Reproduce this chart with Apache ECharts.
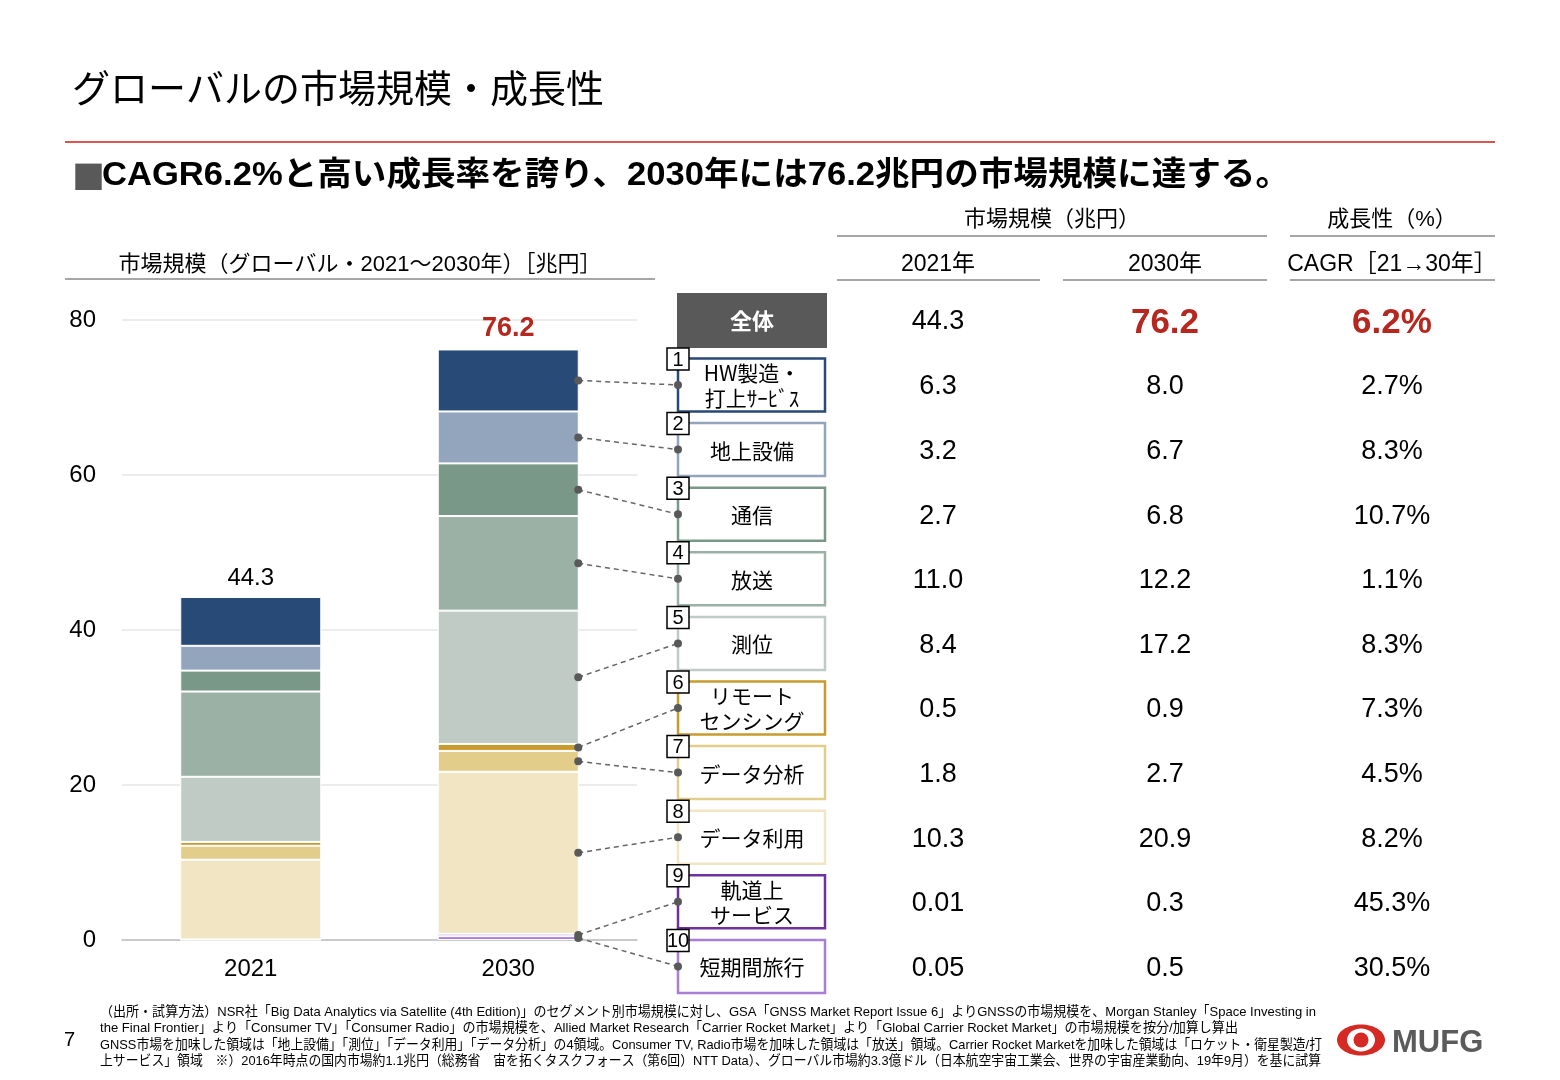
<!DOCTYPE html>
<html>
<head>
<meta charset="utf-8">
<script src="https://cdn.jsdelivr.net/npm/echarts@6/dist/echarts.min.js"></script>
<style>
html,body{margin:0;padding:0;background:#fff;}
#main{width:1560px;height:1080px;}
</style>
</head>
<body>
<div id="main"></div>
<script>
// データ（上から順に 1〜10）
var years = ['2021', '2030'];
var segNames = ['HW製造・\n打上ｻｰﾋﾞｽ', '地上設備', '通信', '放送', '測位', 'リモート\nセンシング', 'データ分析', 'データ利用', '軌道上\nサービス', '短期間旅行'];
var value2021 = [6.3, 3.2, 2.7, 11.0, 8.4, 0.5, 1.8, 10.3, 0.01, 0.05];
var value2030 = [8.0, 6.7, 6.8, 12.2, 17.2, 0.9, 2.7, 20.9, 0.3, 0.5];
var cagrList = ['2.7%', '8.3%', '10.7%', '1.1%', '8.3%', '7.3%', '4.5%', '8.2%', '45.3%', '30.5%'];
var totals = [44.3, 76.2];
var totalCagr = '6.2%';
var yTicks = [0, 20, 40, 60, 80];

var segColors = ['#284a77', '#93a5bd', '#7a9888', '#9cb1a6', '#bfcbc4', '#c99a2e', '#e2cd8a', '#f2e5c3', '#7030a0', '#a97ed6'];
var RED = '#b5271f';
var FONT = '"Liberation Sans","Noto Sans CJK JP",sans-serif';
var JFONT = '"Noto Sans CJK JP",sans-serif';

var ctx = document.createElement('canvas').getContext('2d');
function measure(s, font) {
    ctx.font = font;
    return ctx.measureText(s).width;
}
function fmt(v) {
    return v < 0.1 ? String(v) : v.toFixed(1);
}
function txt(x, y, s, size, opt) {
    opt = opt || {};
    return {
        type: 'text', x: x, y: y, scaleX: opt.sx || 1, silent: true, z: 10,
        style: {
            text: s,
            font: (opt.bold ? 'bold ' : '') + size + 'px ' + (opt.family || FONT),
            fill: opt.color || '#000',
            textAlign: opt.align || 'left',
            textVerticalAlign: 'middle',
            lineHeight: opt.lh || size * 1.2
        }
    };
}
function hline(x1, x2, y, color, w) {
    return {type: 'line', silent: true, shape: {x1: x1, y1: y, x2: x2, y2: y}, style: {stroke: color, lineWidth: w}};
}

// 系列は下から積む
var series = [];
for (var i = segNames.length - 1; i >= 0; i--) {
    var data = [value2021[i], value2030[i]];
    if (i === 0) {
        data = data.map(function (v, k) {
            return {
                value: v,
                label: {
                    show: true, position: 'top', distance: 7,
                    formatter: totals[k].toFixed(1),
                    color: k ? RED : '#000',
                    fontSize: k ? 27 : 24,
                    fontWeight: k ? 'bold' : 'normal',
                    fontFamily: FONT
                }
            };
        });
    }
    series.push({
        name: segNames[i],
        type: 'bar',
        stack: 'total',
        barWidth: 141,
        data: data,
        itemStyle: {color: segColors[i], borderColor: '#fff', borderWidth: 1},
        emphasis: {disabled: true}
    });
}

var chart = echarts.init(document.getElementById('main'));
chart.setOption({
    animation: false,
    grid: {left: 122, right: 923, top: 320, bottom: 140},
    xAxis: {
        type: 'category', data: years,
        axisLine: {lineStyle: {color: '#bfbfbf', width: 1.5}},
        axisTick: {show: false},
        axisLabel: {color: '#000', fontSize: 24, fontFamily: FONT, margin: 17}
    },
    yAxis: {
        type: 'value', min: yTicks[0], max: yTicks[yTicks.length - 1], interval: yTicks[1] - yTicks[0],
        axisLine: {show: false}, axisTick: {show: false},
        splitLine: {lineStyle: {color: '#e6e6e6', width: 1.5}},
        axisLabel: {color: '#000', fontSize: 24, fontFamily: FONT, margin: 26}
    },
    series: series
});

// 文字・表・凡例ボックス
var g = [];
g.push(txt(72, 88, 'グローバルの市場規模・成長性', 38, {family: JFONT}));
g.push(hline(65, 1495, 142, '#d9574f', 2));

var subFont = 'bold 33px ' + FONT;
var subText = 'CAGR6.2%と高い成長率を誇り、2030年には76.2兆円の市場規模に達する。';
g.push(txt(72, 176, '■', 33, {bold: true, color: '#595959', family: JFONT}));
g.push(txt(102, 176, subText, 33, {bold: true, sx: 1188 / measure(subText, subFont)}));

g.push(txt(360, 265, '市場規模（グローバル・2021～2030年）［兆円］', 22, {align: 'center'}));
g.push(hline(65, 655, 279, '#a6a6a6', 2));

g.push(txt(1052, 220, '市場規模（兆円）', 22, {align: 'center'}));
g.push(hline(837, 1267, 236, '#a6a6a6', 2));
g.push(txt(1392, 220, '成長性（%）', 22, {align: 'center'}));
g.push(hline(1290, 1495, 236, '#a6a6a6', 2));

var colX = [938, 1165, 1392];
g.push(txt(colX[0], 265, years[0] + '年', 23, {align: 'center'}));
g.push(hline(837, 1040, 280, '#a6a6a6', 2));
g.push(txt(colX[1], 265, years[1] + '年', 23, {align: 'center'}));
g.push(hline(1063, 1267, 280, '#a6a6a6', 2));
g.push(txt(colX[2], 265, 'CAGR［21→30年］', 23, {align: 'center'}));
g.push(hline(1290, 1495, 280, '#a6a6a6', 2));

// 全体
g.push({type: 'rect', silent: true, shape: {x: 677, y: 293, width: 150, height: 55}, style: {fill: '#595959'}});
g.push(txt(752, 321, '全体', 22, {align: 'center', bold: true, color: '#fff', family: JFONT}));
g.push(txt(colX[0], 322, totals[0].toFixed(1), 27, {align: 'center'}));
g.push(txt(colX[1], 323, totals[1].toFixed(1), 35, {align: 'center', bold: true, color: RED}));
g.push(txt(colX[2], 323, totalCagr, 35, {align: 'center', bold: true, color: RED}));

var rowY = [];
for (var r = 0; r < segNames.length; r++) {
    var cy = 385 + r * 64.6;
    rowY.push(cy);
    g.push({type: 'rect', silent: true, shape: {x: 678, y: cy - 26.5, width: 147, height: 53},
        style: {fill: '#fff', stroke: segColors[r], lineWidth: 2.5}});
    g.push(txt(752, cy + 1, segNames[r], 21, {align: 'center', lh: 25, family: JFONT}));
    g.push({type: 'rect', silent: true, z: 11, shape: {x: 667, y: cy - 37, width: 22, height: 22},
        style: {fill: '#fff', stroke: '#000', lineWidth: 1.5}});
    var tg = txt(678, cy - 25, String(r + 1), 20, {align: 'center'});
    tg.z = 12;
    g.push(tg);
    g.push(txt(colX[0], cy + 2, fmt(value2021[r]), 27, {align: 'center'}));
    g.push(txt(colX[1], cy + 2, fmt(value2030[r]), 27, {align: 'center'}));
    g.push(txt(colX[2], cy + 2, cagrList[r], 27, {align: 'center'}));
}

// 2030年の棒から凡例へ点線
for (var s = 0; s < segNames.length; s++) {
    var base = 0;
    for (var j = s + 1; j < segNames.length; j++) base += value2030[j];
    var p = chart.convertToPixel({seriesIndex: 0}, [years[1], base + value2030[s] / 2]);
    var px = p[0] + 70;
    g.push({type: 'line', silent: true, z: 20, shape: {x1: px, y1: p[1], x2: 678, y2: rowY[s]},
        style: {stroke: '#666', lineWidth: 1.5, lineDash: [5, 4]}});
    g.push({type: 'circle', silent: true, z: 21, shape: {cx: px, cy: p[1], r: 4}, style: {fill: '#595959'}});
    g.push({type: 'circle', silent: true, z: 21, shape: {cx: 678, cy: rowY[s], r: 4}, style: {fill: '#595959'}});
}

// 注記（行ごとの右端に合わせて横幅を詰める）
var notes = [
    '（出所・試算方法）NSR社「Big Data Analytics via Satellite (4th Edition)」のセグメント別市場規模に対し、GSA「GNSS Market Report Issue 6」よりGNSSの市場規模を、Morgan Stanley「Space Investing in',
    'the Final Frontier」より「Consumer TV」「Consumer Radio」の市場規模を、Allied Market Research「Carrier Rocket Market」より「Global Carrier Rocket Market」の市場規模を按分/加算し算出',
    'GNSS市場を加味した領域は「地上設備」「測位」「データ利用」「データ分析」の4領域。Consumer TV, Radio市場を加味した領域は「放送」領域。Carrier Rocket Marketを加味した領域は「ロケット・衛星製造/打',
    '上サービス」領域　※）2016年時点の国内市場約1.1兆円（総務省　宙を拓くタスクフォース（第6回）NTT Data）、グローバル市場約3.3億ドル（日本航空宇宙工業会、世界の宇宙産業動向、19年9月）を基に試算'
];
var noteWidths = [1216, 1138, 1222, 1221];
var noteFont = '13.5px ' + FONT;
for (var n = 0; n < notes.length; n++) {
    g.push(txt(100, 1012 + n * 16.5, notes[n], 13.5, {sx: noteWidths[n] / measure(notes[n], noteFont)}));
}
g.push(txt(64, 1040, '7', 20));

// ロゴ
g.push({type: 'ellipse', silent: true, shape: {cx: 1361, cy: 1040, rx: 24, ry: 15.5}, style: {fill: '#d42a23'}});
g.push({type: 'ellipse', silent: true, shape: {cx: 1361, cy: 1040, rx: 14, ry: 11.5}, style: {fill: '#fff'}});
g.push({type: 'circle', silent: true, shape: {cx: 1361, cy: 1040, r: 7.5}, style: {fill: '#d42a23'}});
g.push(txt(1392, 1043, 'MUFG', 31, {bold: true, color: '#5b5b5b'}));

chart.setOption({graphic: {elements: g}});
</script>
</body>
</html>
